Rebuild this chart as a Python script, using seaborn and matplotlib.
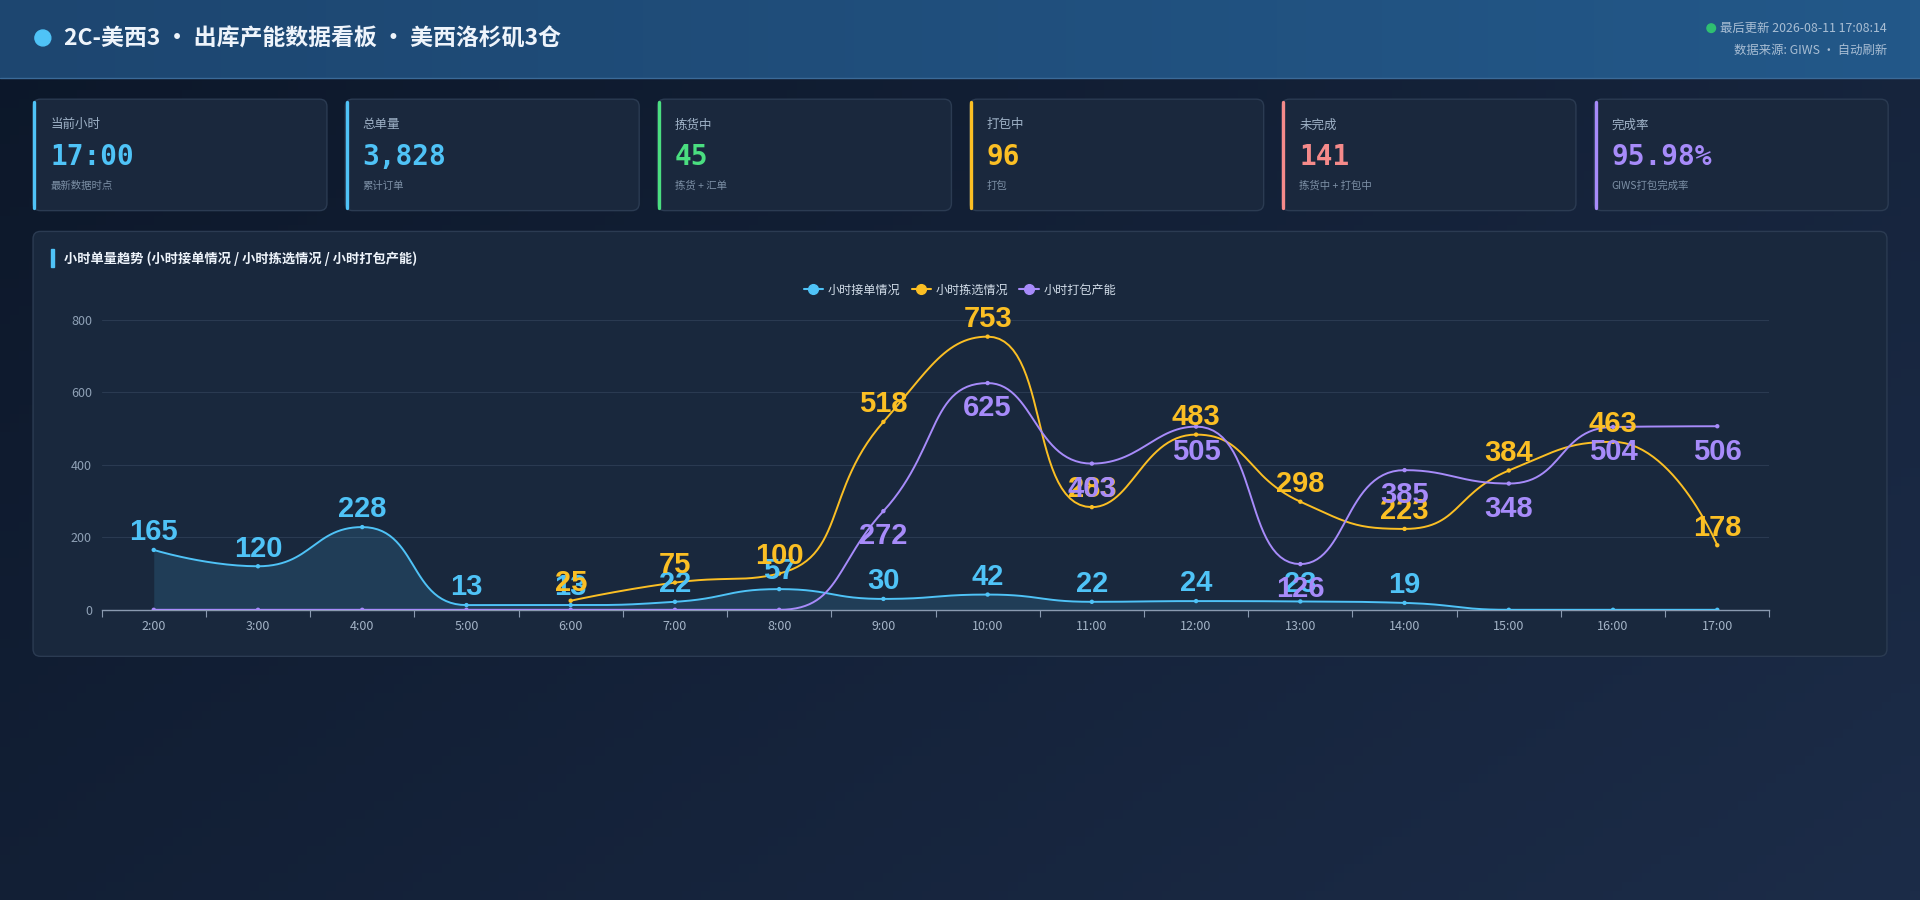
import numpy as np
import pandas as pd
import seaborn as sns
import matplotlib.pyplot as plt
from matplotlib.patches import FancyBboxPatch, Rectangle, Circle
from matplotlib.lines import Line2D

# ---- data ----
hours = ['2:00', '3:00', '4:00', '5:00', '6:00', '7:00', '8:00', '9:00',
         '10:00', '11:00', '12:00', '13:00', '14:00', '15:00', '16:00', '17:00']
received = [165, 120, 228, 13, 13, 22, 57, 30, 42, 22, 24, 23, 19, 0, 0, 0]
picked = [None, None, None, None, 25, 75, 100, 518, 753, 283, 483, 298, 223, 384, 463, 178]
packed = [0, 0, 0, 0, 0, 0, 0, 272, 625, 403, 505, 126, 385, 348, 504, 506]

series_names = ['小时接单情况', '小时拣选情况', '小时打包产能']
series_colors = ['#4fc3f7', '#fbbf24', '#a78bfa']

kpi_titles = ['当前小时', '总单量', '拣货中', '打包中', '未完成', '完成率']
kpi_values = ['17:00', '3,828', '45', '96', '141', '95.98%']
kpi_notes = ['最新数据时点', '累计订单', '拣货 + 汇单', '打包', '拣货中 + 打包中', 'GIWS打包完成率']
kpi_colors = ['#4fc3f7', '#4fc3f7', '#4ade80', '#fbbf24', '#f58a8a', '#a78bfa']

title = '2C-美西3 · 出库产能数据看板 · 美西洛杉矶3仓'
update_text = '最后更新 2026-08-11 17:08:14'
source_text = '数据来源: GIWS · 自动刷新'
chart_title = '小时单量趋势 (小时接单情况 / 小时拣选情况 / 小时打包产能)'

sns.set_theme(style='dark')
plt.rcParams['font.family'] = ['Noto Sans CJK SC', 'DejaVu Sans']
plt.rcParams['axes.unicode_minus'] = False

W, H = 1568, 735
fig = plt.figure(figsize=(19.2, 9), dpi=100)

# background layer in reference pixel units
bg = fig.add_axes([0, 0, 1, 1], zorder=0)
bg.set_xlim(0, W)
bg.set_ylim(H, 0)
bg.axis('off')

gx, gy = np.meshgrid(np.linspace(0, 1, 200), np.linspace(0, 1, 100))
t = (gx * 0.6 + gy * 0.4)
c0 = np.array([0x0c, 0x17, 0x29]) / 255
c1 = np.array([0x1c, 0x2c, 0x48]) / 255
img = c0[None, None, :] * (1 - t[..., None]) + c1[None, None, :] * t[..., None]
bg.imshow(img, extent=[0, W, H, 0], aspect='auto', zorder=0)

# header
hx = np.linspace(0, 1, 200)[None, :]
h0 = np.array([0x1d, 0x46, 0x70]) / 255
h1 = np.array([0x23, 0x58, 0x89]) / 255
himg = h0[None, None, :] * (1 - hx[..., None]) + h1[None, None, :] * hx[..., None]
bg.imshow(himg, extent=[0, W, 64, 0], aspect='auto', zorder=1)
bg.plot([0, W], [64, 64], color='#3b6a98', lw=1, zorder=2)
bg.add_patch(Circle((35, 31), 6.5, color='#4fc3f7', zorder=3))
bg.text(52, 32, title, va='center', ha='left', fontsize=16.5, weight='bold',
        color='#eef4fb', zorder=3)
bg.add_patch(Circle((1397.5, 23), 3.5, color='#2fbf71', zorder=3))
bg.text(1541, 23, update_text, va='center', ha='right', fontsize=8.9, color='#a9bed4', zorder=3)
bg.text(1541, 41, source_text, va='center', ha='right', fontsize=8.9, color='#a9bed4', zorder=3)

# KPI cards
for i in range(6):
    x0 = 27 + i * 255
    card = FancyBboxPatch((x0, 81), 240, 91, boxstyle='round,pad=0,rounding_size=6',
                          facecolor='#1a283d', edgecolor='#2b3b52', lw=1, zorder=2)
    bg.add_patch(card)
    bg.plot([x0 + 1, x0 + 1], [83, 170], color=kpi_colors[i], lw=2.4,
            solid_capstyle='round', zorder=3)
    bg.text(x0 + 14, 102, kpi_titles[i], va='center', ha='left', fontsize=9,
            color='#9fb2c7', zorder=3)
    bg.text(x0 + 14, 128, kpi_values[i], va='center', ha='left', fontsize=20,
            weight='bold', family='DejaVu Sans Mono', color=kpi_colors[i], zorder=3)
    bg.text(x0 + 14, 152, kpi_notes[i], va='center', ha='left', fontsize=7.5,
            color='#7d90a6', zorder=3)

# chart panel
panel = FancyBboxPatch((27, 189), 1514, 347, boxstyle='round,pad=0,rounding_size=6',
                       facecolor='#19283d', edgecolor='#2b3b52', lw=1, zorder=2)
bg.add_patch(panel)
bg.add_patch(Rectangle((41.5, 203), 2.5, 15, color='#4fc3f7', zorder=3))
bg.text(52, 211, chart_title, va='center', ha='left', fontsize=9.5, weight='bold',
        color='#eef4fb', zorder=3)

# ---- chart ----
ax = fig.add_axes([83 / W, 1 - 498 / H, 1362 / W, 237 / H], zorder=2)
ax.set_facecolor('none')

SX, SY = 1362 / 16, 237 / 800


def control_points(prev, p, nxt, s):
    # smoothing with the control points kept inside each segment's box
    d0 = np.linalg.norm(p - prev)
    d1 = np.linalg.norm(nxt - p)
    v = nxt - prev
    cout = p + v * s * d1 / (d0 + d1)
    cout = np.clip(cout, np.minimum(nxt, p), np.maximum(nxt, p))
    cin = p - (cout - p) * d0 / d1
    cin = np.clip(cin, np.minimum(prev, p), np.maximum(prev, p))
    cout = p + (p - cin) * d1 / d0
    return cin, cout


def smooth_curve(xs, ys, smooth=0.5, steps=30):
    P = np.column_stack([np.asarray(xs, float) * SX, np.asarray(ys, float) * SY])
    n = len(P)
    cins, couts = [P[0]], [P[0]]
    for i in range(1, n - 1):
        ci, co = control_points(P[i - 1], P[i], P[i + 1], smooth)
        cins.append(ci)
        couts.append(co)
    cins.append(P[-1])
    couts.append(P[-1])
    out = [P[0]]
    tt = np.linspace(0, 1, steps)[1:, None]
    for i in range(n - 1):
        p0, p1, a, b = P[i], P[i + 1], couts[i], cins[i + 1]
        B = (1 - tt) ** 3 * p0 + 3 * (1 - tt) ** 2 * tt * a + 3 * (1 - tt) * tt ** 2 * b + tt ** 3 * p1
        out.extend(B)
    out = np.array(out)
    return out[:, 0] / SX, out[:, 1] / SY


frames = []
points = []
for name, vals in zip(series_names, [received, picked, packed]):
    idx = [i for i, v in enumerate(vals) if v is not None]
    yv = [vals[i] for i in idx]
    cx, cy = smooth_curve(idx, yv)
    frames.append(pd.DataFrame({'x': cx, 'y': cy, 'series': name}))
    points.append(pd.DataFrame({'x': idx, 'y': yv, 'series': name}))
curves = pd.concat(frames, ignore_index=True)
pts = pd.concat(points, ignore_index=True)
palette = dict(zip(series_names, series_colors))

rc = curves[curves['series'] == series_names[0]]
ax.fill_between(rc['x'], rc['y'], 0, color=series_colors[0], alpha=0.14, lw=0, zorder=1)

sns.lineplot(data=curves, x='x', y='y', hue='series', palette=palette, sort=False,
             estimator=None, lw=1.4, legend=False, ax=ax, zorder=3)
sns.scatterplot(data=pts, x='x', y='y', hue='series', palette=palette, s=10,
                edgecolor='none', legend=False, ax=ax, zorder=4)

label_offsets = [7, 7, -24]
for name, vals, col, off in zip(series_names, [received, picked, packed], series_colors, label_offsets):
    for i, v in enumerate(vals):
        if v is None or v == 0:
            continue
        ax.annotate(str(v), (i, v), xytext=(0, off), textcoords='offset points',
                    ha='center', va='baseline', fontsize=21, weight='bold',
                    family='Liberation Sans', color=col, zorder=5)

ax.set_xlim(-0.5, 15.5)
ax.set_ylim(0, 800)
ax.set_xticks(range(len(hours)))
ax.set_xticklabels(hours)
ax.set_xticks(np.arange(-0.5, 16, 1), minor=True)
ax.set_yticks([0, 200, 400, 600, 800])
ax.tick_params(axis='x', which='major', length=0, pad=7, labelsize=9, labelcolor='#a3b3c6')
ax.tick_params(axis='x', which='minor', length=5, width=0.8, color='#8a9ab0', direction='out', bottom=True)
ax.tick_params(axis='y', length=0, pad=7, labelsize=9, labelcolor='#8fa1b6')
ax.grid(axis='y', color='#2a3a51', lw=0.8)
ax.grid(axis='x', visible=False)
for s in ['top', 'right', 'left']:
    ax.spines[s].set_visible(False)
ax.spines['bottom'].set_color('#8a9ab0')
ax.spines['bottom'].set_linewidth(1)
ax.set_xlabel(None)
ax.set_ylabel(None)

handles = [Line2D([0], [0], color=c, lw=1.5, marker='o', markersize=7) for c in series_colors]
leg = ax.legend(handles, series_names, loc='center', bbox_to_anchor=((784 - 83) / 1362, (498 - 237) / 237),
                ncol=3, frameon=False, fontsize=8.7, handlelength=1.6, handletextpad=0.4,
                columnspacing=0.9, labelcolor='#d3deea')

fig.savefig('out.png', dpi=100)
